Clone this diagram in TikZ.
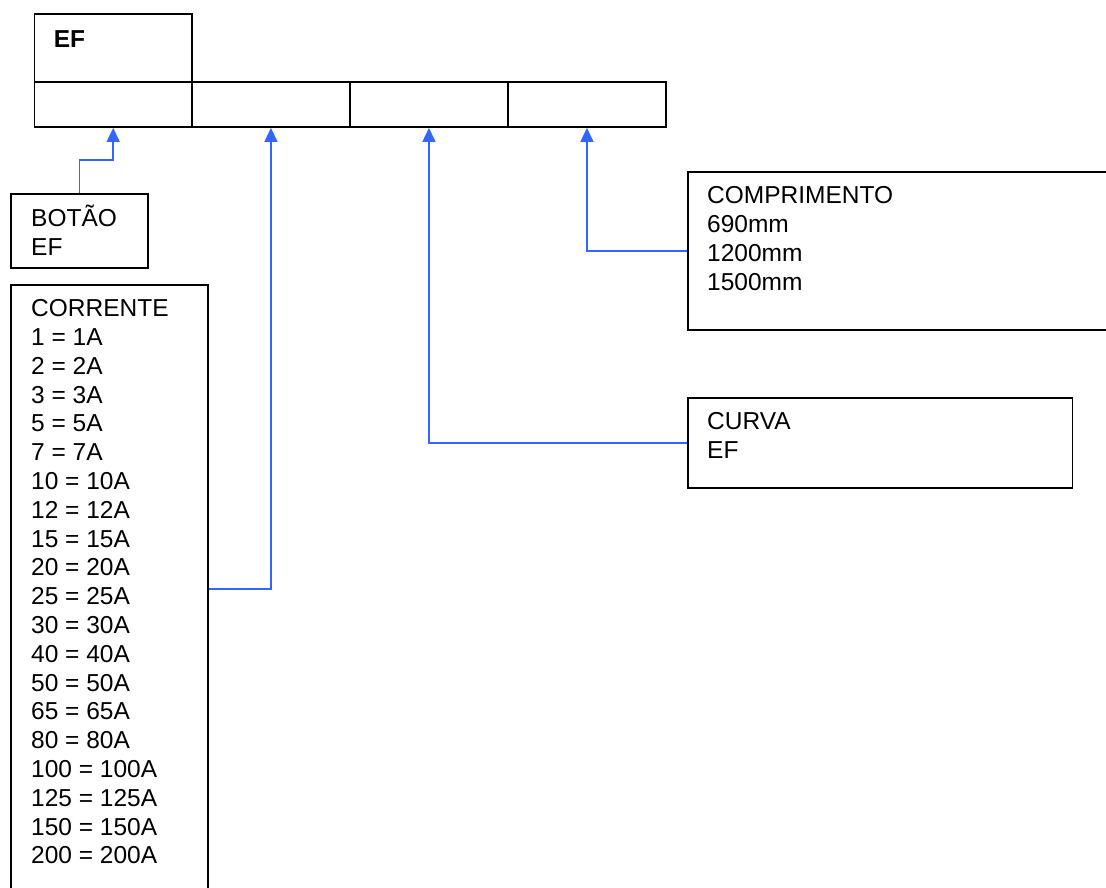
\documentclass[tikz,border=0pt]{standalone}
\usepackage{fontspec}
\setmainfont{Liberation Sans}
\usetikzlibrary{arrows.meta}
\definecolor{linkblue}{RGB}{51,102,255}
\tikzset{
  box/.style={draw, line width=1.9pt, anchor=north west, inner sep=0pt},
  txt/.style={anchor=base west, inner sep=0pt, font=\fontsize{24.5}{28.8}\selectfont},
  link/.style={draw=linkblue, line width=1.6pt, -{Triangle[width=13pt,length=14pt]}}
}
\begin{document}
\begin{tikzpicture}[x=1pt,y=-1pt]
  \clip (0,0) rectangle (1106,888);
  % code boxes
  \node[box, minimum width=157.5pt, minimum height=67.7pt] (ef) at (33.5,13) {};
  \node[box, minimum width=157.5pt, minimum height=45.3pt] (cell1) at (33.5,80.7) {};
  \node[box, minimum width=158pt, minimum height=45.3pt] (cell2) at (191,80.7) {};
  \node[box, minimum width=158pt, minimum height=45.3pt] (cell3) at (349,80.7) {};
  \node[box, minimum width=158pt, minimum height=45.3pt] (cell4) at (507,80.7) {};
  \node[txt, font=\fontsize{24.5}{28.8}\selectfont\bfseries] (eftxt) at (53.6,48) {EF};
  % legend boxes
  \node[box, minimum width=137pt, minimum height=74pt] (botao) at (10,193) {};
  \node[box, minimum width=197pt, minimum height=608pt] (corrente) at (10,284) {};
  \node[box, minimum width=440pt, minimum height=158pt] (compr) at (687,171) {};
  \node[box, minimum width=384.5pt, minimum height=90pt] (curva) at (687,397) {};
  % legend texts
  \node[txt] (botao1) at (31,226.7) {BOTÃO};
  \node[txt] (botao2) at (31,255.8) {EF};
  \foreach \label [count=\i from 0] in {CORRENTE, 1 = 1A, 2 = 2A, 3 = 3A, 5 = 5A,
      7 = 7A, 10 = 10A, 12 = 12A, 15 = 15A, 20 = 20A, 25 = 25A, 30 = 30A,
      40 = 40A, 50 = 50A, 65 = 65A, 80 = 80A, 100 = 100A, 125 = 125A,
      150 = 150A, 200 = 200A}
    \node[txt] (corr\i) at (31,316.7+28.8*\i) {\label};
  \foreach \label [count=\i from 0] in {COMPRIMENTO, 690mm, 1200mm, 1500mm}
    \node[txt] (compr\i) at (707,204+28.9*\i) {\label};
  \node[txt] (curva1) at (707,429) {CURVA};
  \node[txt] (curva2) at (707,458) {EF};
  % connectors
  \draw[link] (botao.north) -- ++(0,-33) -| (cell1.south);
  \draw[link] (corrente.east) -| (cell2.south);
  \draw[link] (curva.west) -| (cell3.south);
  \draw[link] (compr.west) -| (cell4.south);
\end{tikzpicture}
\end{document}
